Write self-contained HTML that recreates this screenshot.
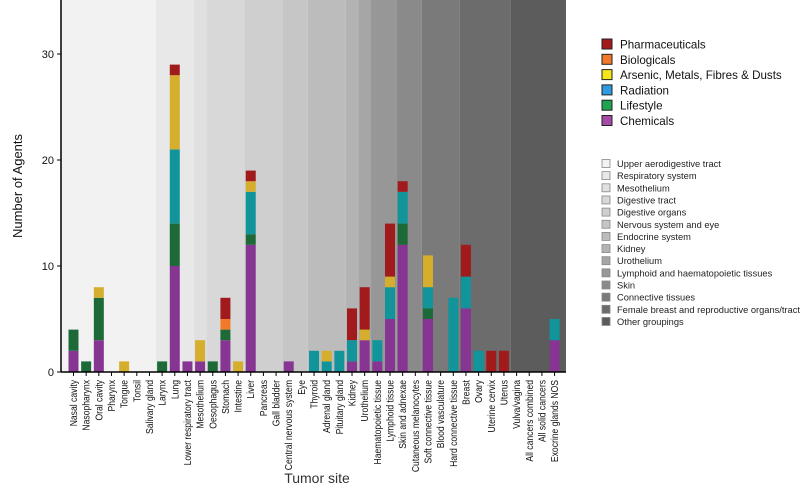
<!DOCTYPE html>
<html><head><meta charset="utf-8"><style>
body{margin:0;background:#fff;width:800px;height:491px;overflow:hidden;font-family:"Liberation Sans",sans-serif}
svg text{font-family:"Liberation Sans",sans-serif}
</style></head><body>
<svg id="chart" width="800" height="491" viewBox="0 0 800 491"></svg>
<script>
const categories=["Nasal cavity","Nasopharynx","Oral cavity","Pharynx","Tongue","Tonsil","Salivary gland","Larynx","Lung","Lower respiratory tract","Mesothelium","Oesophagus","Stomach","Intestine","Liver","Pancreas","Gall bladder","Central nervous system","Eye","Thyroid","Adrenal gland","Pituitary gland","Kidney","Urothelium","Haematopoietic tissue","Lymphoid tissue","Skin and adnexae","Cutaneous melanocytes","Soft connective tissue","Blood vasculature","Hard connective tissue","Breast","Ovary","Uterine cervix","Uterus","Vulva/vagina","All cancers combined","All solid cancers","Exocrine glands NOS"];
const chemicals=[2,0,3,0,0,0,0,0,10,1,1,0,3,0,12,0,0,1,0,0,0,0,1,3,1,5,12,0,5,0,0,6,0,0,0,0,0,0,3];
const lifestyle=[2,1,4,0,0,0,0,1,4,0,0,1,1,0,1,0,0,0,0,0,0,0,0,0,0,0,2,0,1,0,0,0,0,0,0,0,0,0,0];
const radiation=[0,0,0,0,0,0,0,0,7,0,0,0,0,0,4,0,0,0,0,2,1,2,2,0,2,3,3,0,2,0,7,3,2,0,0,0,0,0,2];
const arsenic=[0,0,1,0,1,0,0,0,7,0,2,0,0,1,1,0,0,0,0,0,1,0,0,1,0,1,0,0,3,0,0,0,0,0,0,0,0,0,0];
const biologicals=[0,0,0,0,0,0,0,0,0,0,0,0,1,0,0,0,0,0,0,0,0,0,0,0,0,0,0,0,0,0,0,0,0,0,0,0,0,0,0];
const pharma=[0,0,0,0,0,0,0,0,1,0,0,0,2,0,1,0,0,0,0,0,0,0,3,4,0,5,1,0,0,0,0,3,0,2,2,0,0,0,0];
const yTicks=[0,10,20,30];
const seriesNames=["Chemicals","Lifestyle","Radiation","Arsenic","Biologicals","Pharmaceuticals"];
const seriesData=[chemicals,lifestyle,radiation,arsenic,biologicals,pharma];
const seriesColors=["#873593","#1d6a38","#12959a","#d4ae2c","#f07a2a","#a11b1d"];
const groupNames=["Upper aerodigestive tract","Respiratory system","Mesothelium","Digestive tract","Digestive organs","Nervous system and eye","Endocrine system","Kidney","Urothelium","Lymphoid and haematopoietic tissues","Skin","Connective tissues","Female breast and reproductive organs/tract","Other groupings"];
const groupStart=[0,7,10,11,14,17,19,22,23,24,26,28,31,35];
const groupColors=["#f2f2f2","#e8e8e8","#e0e0e0","#d8d8d8","#cfcfcf","#c6c6c6","#bcbcbc","#b3b3b3","#a6a6a6","#979797","#8a8a8a","#7a7a7a","#6c6c6c","#5c5c5c"];

const svg=document.getElementById('chart');
const NS="http://www.w3.org/2000/svg";
function mk(t,a){const e=document.createElementNS(NS,t);for(const k in a)e.setAttribute(k,a[k]);svg.appendChild(e);return e;}
const x0=61,x1=566,yBase=372,yPer=10.6,step=12.66,firstC=73.5,bw=10;
const xc=i=>firstC+i*step;
const y=v=>yBase-v*yPer;
for(let g=0;g<groupStart.length;g++){
  const l=g===0?x0:xc(groupStart[g])-step/2;
  const r=g===groupStart.length-1?x1:xc(groupStart[g+1])-step/2;
  const e=mk('rect',{x:l,y:0,width:r-l,height:yBase,fill:groupColors[g]});
  
  
}
categories.forEach((c,i)=>{
  let acc=0;
  seriesData.forEach((s,k)=>{
    const v=s[i];if(!v)return;
    const e=mk('rect',{x:xc(i)-bw/2,y:y(acc+v),width:bw,height:v*yPer,fill:seriesColors[k]});
    
    
    acc+=v;
  });
  const tk=mk('line',{x1:xc(i),x2:xc(i),y1:yBase,y2:yBase+4,stroke:'#000','stroke-width':1});
  
  
  const t=mk('text',{x:0,y:0,'font-size':10,'text-anchor':'end',transform:`translate(${xc(i)+3.5},${yBase+8}) rotate(-90) scale(0.86,1)`,fill:'#111'});
  t.textContent=c;
  
  
});
const ax=mk('line',{x1:x0,x2:x1,y1:yBase,y2:yBase,stroke:'#000','stroke-width':1.5});


const ay=mk('line',{x1:x0,x2:x0,y1:0,y2:yBase,stroke:'#000','stroke-width':1.5});


yTicks.forEach(v=>{
  const l=mk('line',{x1:x0-4,x2:x0,y1:y(v),y2:y(v),stroke:'#000'});
  
  
  const t=mk('text',{x:x0-7,y:y(v)+4,'font-size':11,'text-anchor':'end',fill:'#111'});
  t.textContent=v;
  
  
});
const yt=mk('text',{x:0,y:0,'font-size':13,'text-anchor':'middle',transform:'translate(22,186) rotate(-90)',fill:'#111'});
yt.textContent='Number of Agents';


const xt=mk('text',{x:317,y:483,'font-size':14,'text-anchor':'middle',fill:'#333'});
xt.textContent='Tumor site';


const legNames=["Pharmaceuticals","Biologicals","Arsenic, Metals, Fibres & Dusts","Radiation","Lifestyle","Chemicals"];
const legColors=["#a11b1d","#f07a2a","#f5e61a","#2f9ae0","#1fa552","#a54aa5"];
legNames.forEach((n,i)=>{
  const cy=44+i*15.3;
  const r=mk('rect',{x:602,y:cy-5,width:10,height:10,fill:legColors[i],stroke:'#222','stroke-width':1});
  
  
  const t=mk('text',{x:620,y:cy+4.5,'font-size':11.6,fill:'#111'});
  t.textContent=n;
  
  
});
groupNames.forEach((n,i)=>{
  const cy=163.5+i*12.15;
  const r=mk('rect',{x:602,y:cy-4,width:8,height:8,fill:groupColors[i],stroke:'#888','stroke-width':0.8});
  
  
  const t=mk('text',{x:617,y:cy+3.5,'font-size':9.3,fill:'#222'});
  t.textContent=n;
  
  
});
</script>
</body></html>
